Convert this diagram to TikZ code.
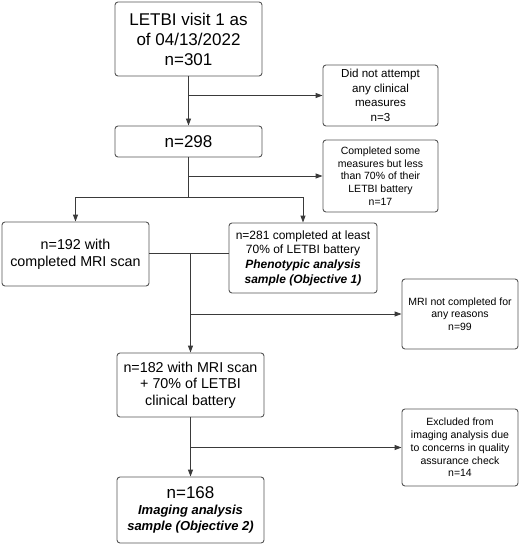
\documentclass[tikz,border=0pt]{standalone}
\usepackage{fontspec}
\setmainfont{Liberation Sans}
\usetikzlibrary{arrows.meta,calc}
\definecolor{ln}{HTML}{3A3A3A}
\definecolor{bx}{HTML}{555555}
\tikzset{
  box/.style={draw=bx, line width=0.9pt, rounded corners=3pt, align=center, inner sep=2pt, text=black},
  big/.style={box, font=\fontsize{17}{20}\selectfont},
  mid/.style={box, font=\fontsize{14.3}{17.3}\selectfont},
  sml/.style={box, font=\fontsize{10.5}{12.7}\selectfont},
  arr/.style={draw=ln, line width=0.9pt, -{Triangle[length=7pt,width=5pt]}},
  ln/.style={draw=ln, line width=0.9pt}
}
\newcommand{\bi}[1]{\textbf{\textit{#1}}}
\begin{document}
\begin{tikzpicture}[x=1pt,y=-1pt]
\useasboundingbox (0,0) rectangle (520,545);
\node[big, minimum width=147pt, minimum height=74pt] (b1) at (188.5,39) {LETBI visit 1 as\\of 04/13/2022\\n=301};
\node[big, minimum width=147pt, minimum height=31pt] (b2) at (188.5,141.5) {n=298};
\node[sml, font=\fontsize{11.6}{14.5}\selectfont, minimum width=115pt, minimum height=61pt] (s1) at (380.5,95.5) {Did not attempt\\any clinical\\measures\\n=3};
\node[sml, minimum width=115pt, minimum height=72pt] (s2) at (380.5,176) {Completed some\\measures but less\\than 70\% of their\\LETBI battery\\n=17};
\node[mid, minimum width=147pt, minimum height=64pt] (b192) at (75.5,254) {n=192 with\\completed MRI scan};
\node[box, font=\fontsize{12}{14.7}\selectfont, minimum width=148pt, minimum height=70pt] (b281) at (303,258) {n=281 completed at least\\70\% of LETBI battery\\\bi{Phenotypic analysis}\\\bi{sample (Objective 1)}};
\node[sml, minimum width=116pt, minimum height=70pt] (s3) at (460,314) {MRI not completed for\\any reasons\\n=99};
\node[mid, font=\fontsize{14.3}{16.7}\selectfont, minimum width=147pt, minimum height=64pt] (b182) at (190.5,385) {n=182 with MRI scan\\+ 70\% of LETBI\\clinical battery};
\node[sml, minimum width=116pt, minimum height=77pt] (s4) at (460,447.5) {Excluded from\\imaging analysis due\\to concerns in quality\\assurance check\\n=14};
\node[box, font=\fontsize{13}{16}\selectfont, minimum width=147pt, minimum height=66pt] (b168) at (190.5,510) {{\fontsize{17}{20}\selectfont n=168}\\\bi{Imaging analysis}\\\bi{sample (Objective 2)}};
% connectors
\draw[arr] (b1.south) -- (b2.north);
\coordinate (j1) at (b1.south |- s1.west);
\draw[arr] (j1) -- (s1.west);
\coordinate (j2) at ($(b2.south)+(0,40)$);
\coordinate (j2a) at (b2.south |- s2.west);
\draw[arr] (j2a) -- (s2.west);
\draw[arr] (b2.south) -- (j2) -| (b192.north);
\draw[arr] (j2) -| (b281.north);
\coordinate (e192) at ($(b192.east)+(0,-1)$);
\draw[ln] (e192) -- (e192 -| b281.west);
\coordinate (j3) at (e192 -| b182.north);
\draw[arr] (j3) -- (b182.north);
\coordinate (j3a) at (b182.north |- s3.west);
\draw[arr] (j3a) -- (s3.west);
\draw[arr] (b182.south) -- (b168.north);
\coordinate (j4) at (b182.south |- s4.west);
\draw[arr] (j4) -- (s4.west);
\end{tikzpicture}
\end{document}
